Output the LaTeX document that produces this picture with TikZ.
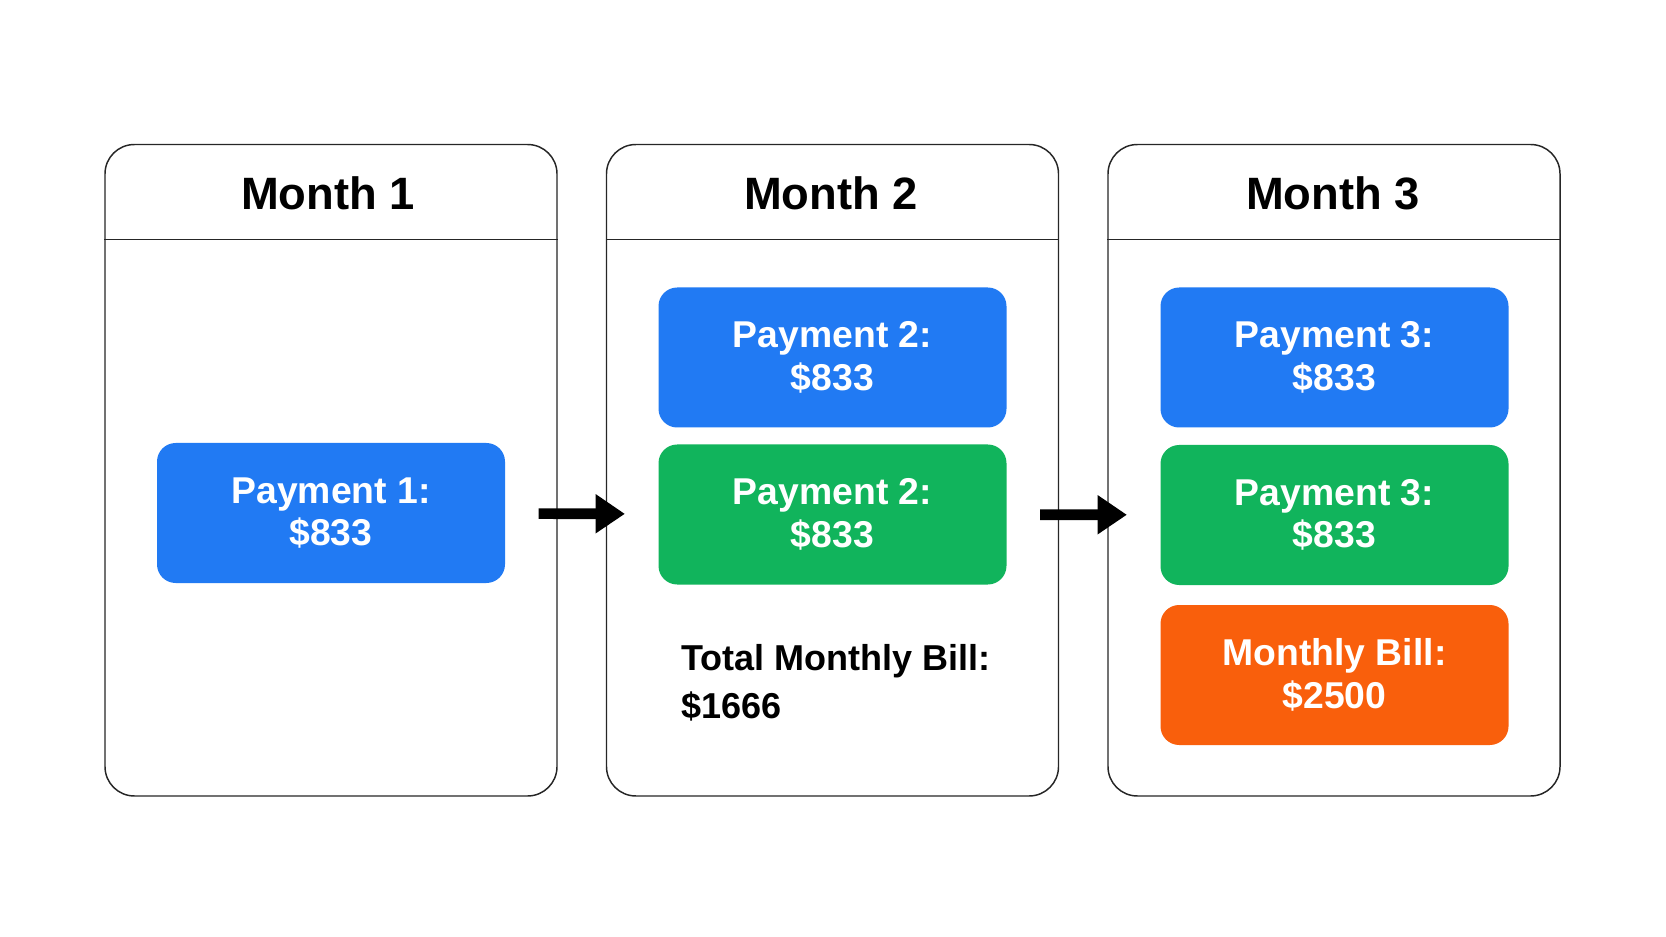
\documentclass[tikz,border=0pt]{standalone}
\usepackage{fontspec}
\setmainfont{Liberation Sans}
\usepackage{tikz}
\usetikzlibrary{arrows.meta}

\definecolor{payblue}{RGB}{33,122,243}
\definecolor{paygreen}{RGB}{17,180,92}
\definecolor{billorange}{RGB}{249,95,12}

\tikzset{
  month/.style={draw=black!85, line width=1.1pt, rounded corners=22pt, fill=white,
    minimum width=339pt, minimum height=488.6pt, inner sep=0pt},
  title/.style={font=\fontsize{34}{40}\selectfont\bfseries, inner sep=0.75pt},
  paybox/.style={rounded corners=14pt, minimum width=261pt, minimum height=105pt,
    align=center, text=white, inner sep=0pt,
    font=\fontsize{28}{32}\selectfont\bfseries},
  flow/.style={line width=8pt, -{Triangle[length=22pt,width=28pt]},
    shorten <=25pt, shorten >=25pt}
}

\begin{document}
\begin{tikzpicture}[x=0.75pt,y=0.75pt,yscale=-1]
\useasboundingbox (0,0) rectangle (1666,937);

% Month panels
\node [month] (m1) at (331,470.25) {};
\node [month] (m2) at (832.5,470.25) {};
\node [month] (m3) at (1334,470.25) {};
% Header rules
\draw [line width=1.1pt, draw=black!85] ([yshift=71.6pt]m1.north west) -- ([yshift=71.6pt]m1.north east);
\draw [line width=1.1pt, draw=black!85] ([yshift=71.6pt]m2.north west) -- ([yshift=71.6pt]m2.north east);
\draw [line width=1.1pt, draw=black!85] ([yshift=71.6pt]m3.north west) -- ([yshift=71.6pt]m3.north east);

% Text Node
\node [title] (t1) at (328,193) {Month 1};
% Text Node
\node [title] (t2) at (831,193) {Month 2};
% Text Node
\node [title] (t3) at (1333,193) {Month 3};

% Payment boxes
\node [paybox, fill=payblue] (pay1) at (331,513) {Payment 1:\\\$833};
\node [paybox, fill=payblue] (pay2a) at (832.5,357.5) {Payment 2:\\\$833};
\node [paybox, fill=paygreen] (pay2b) at (832.5,514.5) {Payment 2:\\\$833};
\node [paybox, fill=payblue] (pay3a) at (1334.5,357.5) {Payment 3:\\\$833};
\node [paybox, fill=paygreen] (pay3b) at (1334.5,515) {Payment 3:\\\$833};
\node [paybox, fill=billorange] (bill3) at (1334.5,675) {Monthly Bill:\\\$2500};

% Text Node
\node [anchor=west, align=left, inner sep=0.75pt, font=\fontsize{27}{36}\selectfont\bfseries] (total2) at (680,683) {Total Monthly Bill:\\\$1666};

% Arrows
\draw [flow] (pay1) -- (pay2b);
\draw [flow] (pay2b) -- (pay3b);

\end{tikzpicture}
\end{document}
